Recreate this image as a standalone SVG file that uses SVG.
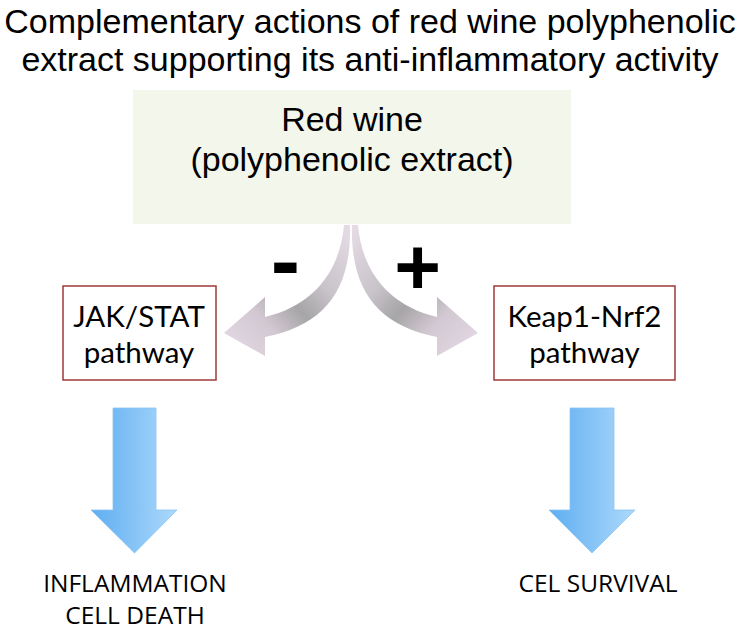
<svg xmlns="http://www.w3.org/2000/svg" width="740" height="630" viewBox="0 0 740 630">
  <style>
    .title { font-family: "Liberation Sans", Arial, sans-serif; font-size: 34px; fill: #000; text-anchor: middle; }
    .src { font-family: "Liberation Sans", Arial, sans-serif; font-size: 34px; fill: #000; text-anchor: middle; }
    .path { font-family: Lato, "Open Sans", sans-serif; font-size: 29.5px; fill: #000; text-anchor: middle; }
    .out { font-family: "Open Sans", "Liberation Sans", sans-serif; font-size: 24.5px; fill: #000; text-anchor: middle; }
    .sign { font-family: "Liberation Sans", Arial, sans-serif; font-weight: bold; fill: #000; text-anchor: middle; }
    .pbox { fill: #ffffff; stroke: #9e3a3a; stroke-width: 1.5; }
    .blue { fill: url(#gB); stroke: #8cc4f2; stroke-width: 0.8; }
  </style>
  <defs>
    <linearGradient id="gL" gradientUnits="userSpaceOnUse" x1="348" y1="225" x2="224" y2="340">
      <stop offset="0" stop-color="#e6dce6"/>
      <stop offset="0.35" stop-color="#c9c3ca"/>
      <stop offset="0.55" stop-color="#a6a5a7"/>
      <stop offset="0.75" stop-color="#d2c8d2"/>
      <stop offset="1" stop-color="#e2d7e2"/>
    </linearGradient>
    <linearGradient id="gR" gradientUnits="userSpaceOnUse" x1="354" y1="225" x2="478" y2="340">
      <stop offset="0" stop-color="#e6dce6"/>
      <stop offset="0.35" stop-color="#c9c3ca"/>
      <stop offset="0.55" stop-color="#a6a5a7"/>
      <stop offset="0.75" stop-color="#d2c8d2"/>
      <stop offset="1" stop-color="#e2d7e2"/>
    </linearGradient>
    <linearGradient id="gB" x1="0" y1="0" x2="1" y2="0">
      <stop offset="0" stop-color="#5eaef2"/>
      <stop offset="0.5" stop-color="#86c3f6"/>
      <stop offset="1" stop-color="#acdafc"/>
    </linearGradient>
  </defs>

  <g id="title">
    <text class="title"><tspan x="370" y="33">Complementary actions of red wine polyphenolic</tspan><tspan x="370" y="71">extract supporting its anti-inflammatory activity</tspan></text>
  </g>

  <g id="redwine">
    <rect x="133" y="90" width="438" height="134" fill="#f2f6eb"/>
    <text class="src"><tspan x="352" y="131">Red wine</tspan><tspan x="352" y="171">(polyphenolic extract)</tspan></text>
  </g>

  <g id="jakstat">
    <rect class="pbox" x="63" y="286" width="153" height="94"/>
    <text class="path"><tspan x="139" y="327">JAK/STAT</tspan><tspan x="139" y="363">pathway</tspan></text>
  </g>

  <g id="keap1">
    <rect class="pbox" x="494" y="286" width="181" height="94"/>
    <text class="path"><tspan x="584.5" y="327">Keap1-Nrf2</tspan><tspan x="584.5" y="363">pathway</tspan></text>
  </g>

  <g id="inflammation">
    <text class="out"><tspan x="135" y="592">INFLAMMATION</tspan><tspan x="135" y="624">CELL DEATH</tspan></text>
  </g>

  <g id="survival">
    <text class="out" x="598" y="592">CEL SURVIVAL</text>
  </g>

  <g id="connectors">
    <path d="M344,225 C340,270 315,305 265,317 L265,297 L224,333 L265,356 L265,337 C322,326 352,292 350,225 Z" fill="url(#gL)"/>
    <path d="M358,225 C362,270 387,305 437,317 L437,297 L478,333 L437,356 L437,337 C380,326 350,292 352,225 Z" fill="url(#gR)"/>
    <text class="sign" x="285.5" y="290" font-size="88">-</text>
    <text class="sign" x="417.5" y="294" font-size="80">+</text>
    <path class="blue" d="M113,408 H156 V510 H177 L134.5,553 L91,510 H113 Z"/>
    <path class="blue" d="M570,408 H614 V510 H635 L592,553 L549,510 H570 Z"/>
  </g>
</svg>
